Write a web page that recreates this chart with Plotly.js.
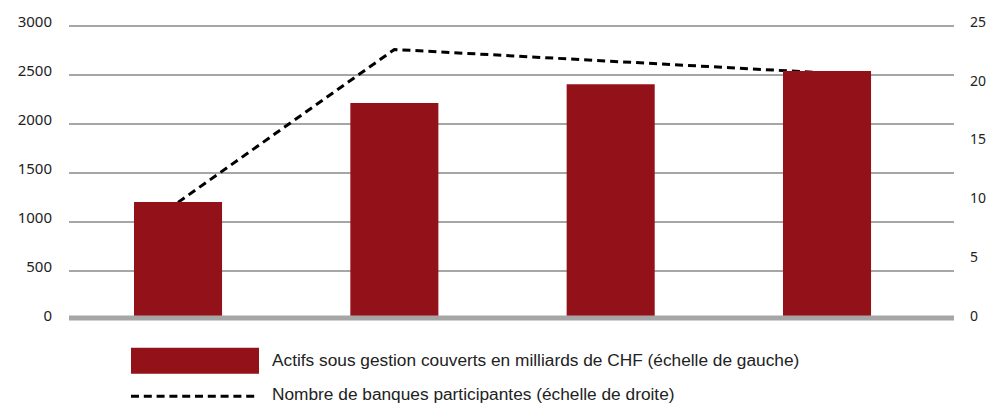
<!DOCTYPE html>
<html>
<head>
<meta charset="utf-8">
<script src="https://cdn.plot.ly/plotly-3.0.1.min.js"></script>
<style>
html,body{margin:0;padding:0;background:#fff;}
#chart{width:987px;height:405px;}
</style>
</head>
<body>
<div id="chart"></div>
<script>
// Data
const categories = ["2017", "2020", "2022", "2024"];
const assetsCHFbn = [1205, 2215, 2405, 2540];
const participatingBanks = [10, 23, 22, 21];
const leftTicks = [0, 500, 1000, 1500, 2000, 2500, 3000];
const rightTicks = [0, 5, 10, 15, 20, 25];
const seriesNames = [
  "Actifs sous gestion couverts en milliards de CHF (échelle de gauche)",
  "Nombre de banques participantes (échelle de droite)"
];

const barColor = "#931119";
const gridColor = "#a6a6a6";
const tickFont = {family: "Noto Sans, sans-serif", size: 15, color: "#222"};
const rightTickFont = {family: "Noto Sans, sans-serif", size: 14, color: "#222"};
const legendFont = {family: "Liberation Sans Narrow, Liberation Sans, sans-serif", size: 17.3, color: "#222"};

const lineTrace = {
  type: "scatter",
  mode: "lines",
  x: categories,
  y: participatingBanks,
  xaxis: "x",
  yaxis: "y",
  line: {color: "#000", width: 3, dash: "8px,5px"},
  name: seriesNames[1],
  showlegend: false,
  hoverinfo: "skip"
};

const barTrace = {
  type: "bar",
  x: categories,
  y: assetsCHFbn,
  xaxis: "x",
  yaxis: "y2",
  width: 0.407,
  marker: {color: barColor, line: {width: 0}},
  name: seriesNames[0],
  showlegend: false,
  hoverinfo: "skip"
};

// plot box in pixels: left 69, right 954, top ~23, bottom 320.5
const leftMax = 3030, rightMax = 25 * 3030 / 3000;
const pxPerUnit = (320.5 - 25.9) / 3000;
const L = 69, R = 954, B = 320.5, T = 25.9 - (leftMax - 3000) * pxPerUnit;
const W = R - L, H = B - T;
const px = v => (v - L) / W;
const py = v => (B - v) / H;

const layout = {
  width: 987,
  height: 405,
  margin: {l: L, r: 987 - R, t: T, b: 405 - B, pad: 0},
  paper_bgcolor: "#fff",
  plot_bgcolor: "#fff",
  showlegend: false,
  xaxis: {
    type: "category",
    range: [-0.504, 3.587],
    showticklabels: false,
    showgrid: false,
    zeroline: false,
    showline: false,
    ticks: ""
  },
  yaxis: {
    side: "right",
    range: [0, rightMax],
    tickvals: rightTicks,
    ticktext: rightTicks.map(String),
    showgrid: false,
    zeroline: false,
    showline: false,
    ticks: "",
    tickfont: rightTickFont,
    ticklabelstandoff: 15,
    ticklabelshift: -4
  },
  yaxis2: {
    overlaying: "y",
    side: "left",
    range: [0, leftMax],
    tickvals: leftTicks,
    ticktext: leftTicks.map(String),
    showgrid: true,
    gridcolor: gridColor,
    gridwidth: 2,
    zeroline: false,
    showline: false,
    ticks: "",
    tickfont: tickFont,
    ticklabelstandoff: 16,
    ticklabelshift: -4
  },
  shapes: [
    // thick base axis line
    {type: "line", xref: "paper", yref: "paper", x0: 0, x1: 1, y0: py(318.5), y1: py(318.5),
     line: {color: gridColor, width: 5}, layer: "above"},
    // legend swatches
    {type: "rect", xref: "paper", yref: "paper", x0: px(131), x1: px(259), y0: py(374.3), y1: py(348.3),
     fillcolor: barColor, line: {width: 0}},
    {type: "line", xref: "paper", yref: "paper", x0: px(131), x1: px(259), y0: py(397), y1: py(397),
     line: {color: "#000", width: 3, dash: "8px,4.8px"}}
  ],
  annotations: [
    {xref: "paper", yref: "paper", x: px(270), y: py(361), xanchor: "left", yanchor: "middle",
     text: seriesNames[0], showarrow: false, font: legendFont},
    {xref: "paper", yref: "paper", x: px(270), y: py(395), xanchor: "left", yanchor: "middle",
     text: seriesNames[1], showarrow: false, font: legendFont}
  ]
};

Plotly.newPlot("chart", [lineTrace, barTrace], layout, {displayModeBar: false, staticPlot: true});
</script>
</body>
</html>
